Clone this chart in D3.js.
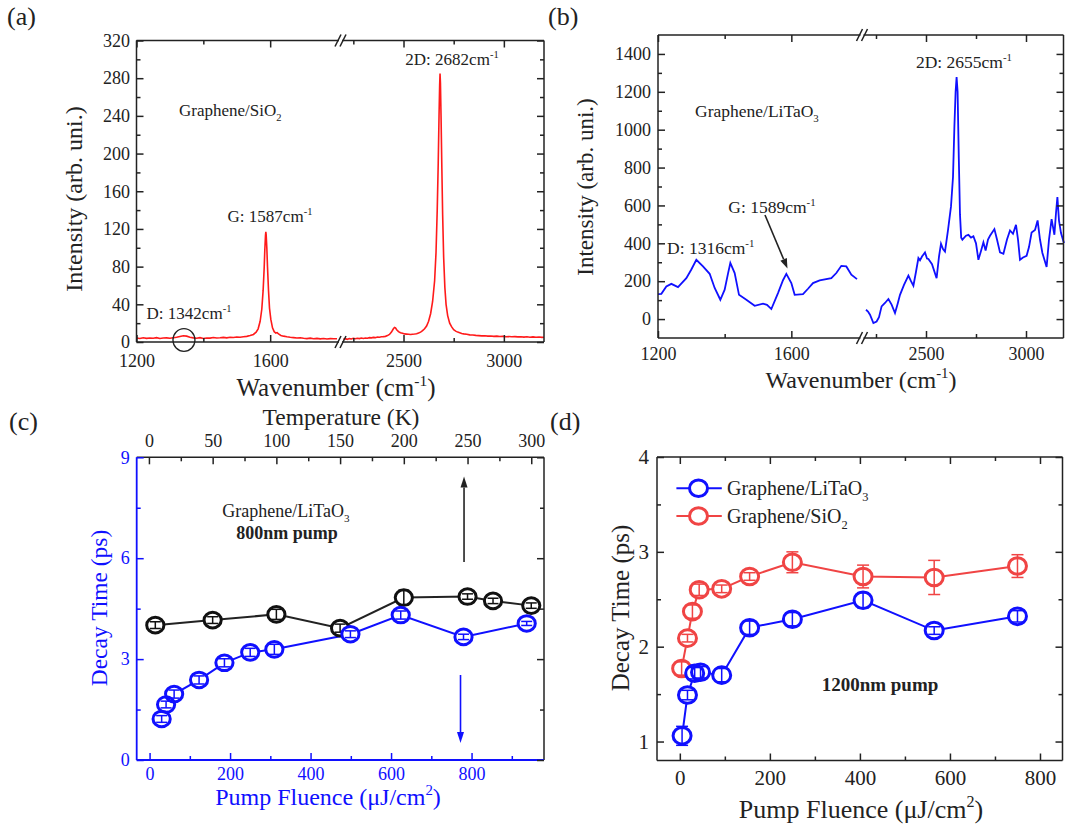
<!DOCTYPE html>
<html><head><meta charset="utf-8">
<script src="https://cdn.jsdelivr.net/npm/d3@7"></script>
<style>body{margin:0;background:#fff} svg{display:block} text{font-family:"Liberation Serif","Times New Roman",serif}</style>
</head><body><svg id="c" width="1068" height="832"></svg>
<script>
// ---------- DATA ----------
// (a) Graphene/SiO2 Raman spectrum
const aLeftWn = [1200,1210,1220,1230,1240,1250,1260,1270,1280,1290,1300,1310,1320,1330,1340,1350,1360,1370,1380,1390,1400,1410,1420,1430,1440,1450,1460,1470,1480,1490,1500,1510,1520,1530,1540,1550,1558,1564,1570,1575,1579,1582,1584,1586,1587,1588,1590,1592,1595,1598,1602,1607,1612,1617,1621,1625,1632,1640,1650,1660,1670,1680,1690,1700,1710,1720,1730,1740,1750,1760,1770,1780,1790,1800];
const aLeftI = [4.2,3.8,4.5,3.9,4.3,4.0,4.6,3.7,4.2,4.4,4.0,4.5,5.0,5.8,6.6,6.2,5.1,4.4,4.0,4.6,3.8,4.3,4.1,4.7,4.2,4.5,4.9,4.4,5.0,4.8,5.3,5.1,5.6,6.0,6.8,8.0,10.5,14,22,35,55,78,98,113,117,114,100,80,55,36,24,15,11,9.5,10,8.5,7,6.2,5.5,5.0,4.6,4.2,4.5,3.9,3.6,4.1,3.5,3.8,3.3,3.7,3.2,3.6,3.4,3.5];
const aRightWn = [2200,2210,2220,2230,2240,2250,2260,2270,2280,2290,2300,2310,2320,2330,2340,2350,2360,2370,2380,2390,2400,2410,2420,2430,2440,2448,2455,2460,2466,2475,2485,2495,2505,2515,2525,2535,2545,2555,2565,2575,2585,2595,2605,2615,2625,2635,2645,2655,2662,2668,2673,2677,2680,2682,2684,2687,2691,2695,2700,2706,2712,2720,2730,2740,2750,2760,2770,2780,2790,2800,2815,2830,2845,2860,2875,2890,2905,2920,2935,2950,2965,2980,2995,3010,3025,3040,3055,3070,3085,3100,3115,3130,3145,3160,3175,3190,3200];
const aRightI = [3.0,3.5,2.8,3.6,3.2,3.9,3.4,4.0,3.6,4.2,3.8,4.3,4.0,4.6,4.4,4.9,4.6,5.2,5.0,5.5,5.7,6.0,6.8,8.0,10.5,13.5,15.5,15,13,11,9.8,9.2,8.6,8.4,8.2,8.0,8.3,8.5,8.8,9.5,10.5,12,14,17,22,30,43,65,95,140,190,240,272,285,275,240,185,135,90,58,40,28,20,16,13,11.5,10.5,9.8,9.0,8.6,8.2,7.6,7.4,7.0,6.8,6.5,6.7,6.2,6.4,6.0,6.2,5.8,6.0,5.6,5.9,5.5,5.7,5.4,5.6,5.2,5.5,5.1,5.4,5.0,5.3,4.9,5.1];
// (b) Graphene/LiTaO3 Raman spectrum
const bLeftWn = [1200,1210,1225,1240,1260,1285,1300,1315,1335,1355,1370,1387,1400,1410,1417,1430,1443,1465,1490,1515,1527,1540,1560,1575,1585,1600,1610,1635,1650,1665,1685,1720,1735,1750,1765,1780,1797];
const bLeftI = [132,133,172,186,169,216,262,313,278,239,164,102,155,240,296,243,128,102,70,81,75,53,137,205,239,190,128,132,160,190,204,216,243,281,278,234,211];
const bRightWn = [2200,2210,2220,2237,2253,2265,2278,2295,2312,2328,2345,2358,2370,2390,2412,2425,2437,2450,2462,2470,2480,2495,2505,2512,2530,2553,2565,2575,2585,2595,2610,2625,2635,2642,2648,2653,2658,2664,2670,2676,2682,2700,2712,2725,2737,2750,2762,2775,2787,2798,2810,2820,2842,2855,2870,2887,2905,2920,2935,2950,2960,2970,2985,3003,3015,3028,3045,3058,3070,3082,3103,3115,3128,3142,3150,3157,3165,3175,3190];
const bRightI = [49,40,23,-21,-13,10,67,85,106,76,32,80,128,180,229,200,176,250,322,310,330,352,320,317,290,216,330,398,370,357,470,595,750,1017,1200,1278,1200,850,550,430,419,440,445,430,437,400,313,360,405,362,420,440,475,420,352,345,420,468,450,498,420,313,325,334,380,457,470,521,420,349,275,420,528,445,560,644,520,454,401];
// (c) decay time vs temperature (black) and vs fluence (blue), 800 nm pump
const cTempK = [5,50,100,150,200,250,270,300];
const cTempTau = [4.01,4.16,4.33,3.92,4.83,4.86,4.73,4.59];
const cTempErr = [0.1,0.1,0.15,0.12,0.22,0.08,0.08,0.08];
const cFlu = [30,41,61,123,186,250,310,499,624,780,937];
const cFluTau = [1.22,1.65,1.96,2.38,2.89,3.20,3.29,3.74,4.31,3.66,4.06];
const cFluErr = [0.1,0.1,0.12,0.12,0.12,0.12,0.15,0.1,0.12,0.08,0.06];
// (d) decay time vs fluence, 1200 nm pump
const dLtoFlu = [5,17,33,46,93,155,250,407,565,750];
const dLtoTau = [1.06,1.49,1.72,1.73,1.70,2.20,2.29,2.49,2.17,2.32];
const dLtoErr = [0.1,0.05,0.06,0.06,0.07,0.07,0.07,0.08,0.04,0.06];
const dSioFlu = [4,17,28,43,93,155,250,407,565,750];
const dSioTau = [1.77,2.09,2.37,2.60,2.61,2.74,2.89,2.74,2.73,2.85];
const dSioErr = [0.07,0.04,0.07,0.06,0.04,0.04,0.11,0.12,0.18,0.12];
// tick values
const aYMajor = [0,40,80,120,160,200,240,280,320];
const aYMinor = [20,60,100,140,180,220,260,300];
const xLMajor = [1200,1600], xLMinor = [1400];
const xRMajor = [2500,3000], xRMinor = [2250,2750];
const bYMajor = [0,200,400,600,800,1000,1200,1400];
const bYMinor = [100,300,500,700,900,1100,1300];
const cYMajor = [0,3,6,9], cYMinor = [1.5,4.5,7.5];
const cFMajor = [0,200,400,600,800], cFMinor = [100,300,500,700,900];
const cTMajor = [0,50,100,150,200,250,300], cTMinor = [25,75,125,175,225,275];
const dYMajor = [1,2,3,4], dYMinor = [1.5,2.5,3.5];
const dXMajor = [0,200,400,600,800], dXMinor = [100,300,500,700];

// ---------- HELPERS ----------
const svg = d3.select("#c");
svg.append("rect").attr("width",1068).attr("height",832).attr("fill","#fff");
const FONT = '"Liberation Serif","Times New Roman",serif';
const INK = "#222";
const BLUE = "#1010ff", RED = "#ff1a1a", RED2 = "#f04444";
const plain = d => String(d);

function rich(g, x, y, parts, size, opts = {}) {
  const t = g.append("text").attr("x", x).attr("y", y).attr("font-size", size)
    .attr("font-family", FONT)
    .attr("text-anchor", opts.anchor || "start").attr("fill", opts.color || INK)
    .attr("font-weight", opts.weight || "normal");
  if (opts.transform) t.attr("transform", opts.transform);
  let cur = 0;
  parts.forEach(p => {
    const [s, kind] = Array.isArray(p) ? p : [p, ""];
    let target = 0, fs = size;
    if (kind === "sup") { target = -0.42 * size; fs = 0.62 * size; }
    if (kind === "sub") { target = 0.28 * size; fs = 0.62 * size; }
    t.append("tspan").attr("dy", target - cur).attr("font-size", fs).text(s);
    cur = target;
  });
  return t;
}
function ax(g, axisFn, scale, vals, len, opts = {}) {
  const a = axisFn(scale).tickValues(vals).tickSize(-len).tickPadding(opts.pad || 6);
  if (opts.labels === false) a.tickFormat(""); else a.tickFormat(opts.fmt || plain);
  const s = g.append("g").attr("transform", opts.tr || null).call(a);
  s.select(".domain").remove();
  s.selectAll("line").attr("stroke", opts.color || INK).attr("stroke-width", 1.5);
  s.selectAll("text").attr("fill", opts.color || INK).attr("font-size", opts.fs || 18).attr("font-family", FONT);
  return s;
}
function seg(g, x1, y1, x2, y2, color, w) {
  g.append("line").attr("x1", x1).attr("y1", y1).attr("x2", x2).attr("y2", y2)
    .attr("stroke", color || INK).attr("stroke-width", w || 1.5);
}
function arrow(g, x1, y1, x2, y2, color, hl = 11, hw = 3.6) {
  const dx = x2 - x1, dy = y2 - y1, L = Math.hypot(dx, dy), ux = dx / L, uy = dy / L;
  const bx = x2 - ux * hl, by = y2 - uy * hl;
  seg(g, x1, y1, bx, by, color, 1.6);
  g.append("path").attr("d", `M${x2},${y2}L${bx - uy * hw},${by + ux * hw}L${bx + uy * hw},${by - ux * hw}Z`).attr("fill", color);
}
function breakMark(g, x1, x2, y) {
  g.append("rect").attr("x", x1 + 1).attr("y", y - 3).attr("width", x2 - x1 - 2).attr("height", 6).attr("fill", "#fff");
  [x1, x2].forEach(x => seg(g, x - 3, y + 6, x + 3, y - 6, INK, 1.5));
}
function markers(g, xs, ys, errs, x, y, color, rx, ry, cap) {
  xs.forEach((v, i) => {
    g.append("ellipse").attr("cx", x(v)).attr("cy", y(ys[i])).attr("rx", rx).attr("ry", ry).attr("fill", "#fff").attr("stroke", "none");
  });
  xs.forEach((v, i) => {
    const cx = x(v), t = y(ys[i] + errs[i]), b = y(ys[i] - errs[i]);
    seg(g, cx, t, cx, b, color, 1.5);
    seg(g, cx - cap, t, cx + cap, t, color, 1.5);
    seg(g, cx - cap, b, cx + cap, b, color, 1.5);
  });
  xs.forEach((v, i) => {
    g.append("ellipse").attr("cx", x(v)).attr("cy", y(ys[i])).attr("rx", rx).attr("ry", ry).attr("fill", "none").attr("stroke", color).attr("stroke-width", 3);
  });
}

// ---------- PANEL (a) ----------
{
  const g = svg.append("g");
  const L = 136.5, R = 544, T = 40.5, B = 342;
  const xL = d3.scaleLinear().domain([1200, 1800]).range([L, 337]);
  const xR = d3.scaleLinear().domain([2200, 3200]).range([343.3, R]);
  const y = d3.scaleLinear().domain([0, 320]).range([B, T]);
  const line = (sx) => d3.line().x(d => sx(d[0])).y(d => y(d[1]));
  g.append("path").datum(aLeftWn.map((w, i) => [w, aLeftI[i]])).attr("d", line(xL)).attr("fill", "none").attr("stroke", RED).attr("stroke-width", 1.6);
  g.append("path").datum(aRightWn.map((w, i) => [w, aRightI[i]])).attr("d", line(xR)).attr("fill", "none").attr("stroke", RED).attr("stroke-width", 1.6);
  seg(g, L, T, R, T); seg(g, L, B, R, B); seg(g, L, T, L, B); seg(g, R, T, R, B);
  breakMark(g, 338, 343, T); breakMark(g, 338, 343, B);
  ax(g, d3.axisLeft, y, aYMajor, 7, { tr: `translate(${L},0)`, pad: 6.5, fs: 18 });
  ax(g, d3.axisLeft, y, aYMinor, 4, { tr: `translate(${L},0)`, labels: false });
  ax(g, d3.axisRight, y, aYMajor, 7, { tr: `translate(${R},0)`, labels: false });
  ax(g, d3.axisRight, y, aYMinor, 4, { tr: `translate(${R},0)`, labels: false });
  ax(g, d3.axisBottom, xL, xLMajor, 7, { tr: `translate(0,${B})`, pad: 12, fs: 18 });
  ax(g, d3.axisBottom, xL, xLMinor, 4, { tr: `translate(0,${B})`, labels: false });
  ax(g, d3.axisBottom, xR, xRMajor, 7, { tr: `translate(0,${B})`, pad: 12, fs: 18 });
  ax(g, d3.axisBottom, xR, xRMinor, 4, { tr: `translate(0,${B})`, labels: false });
  ax(g, d3.axisTop, xL, xLMajor, 7, { tr: `translate(0,${T})`, labels: false });
  ax(g, d3.axisTop, xL, xLMinor, 4, { tr: `translate(0,${T})`, labels: false });
  ax(g, d3.axisTop, xR, xRMajor, 7, { tr: `translate(0,${T})`, labels: false });
  ax(g, d3.axisTop, xR, xRMinor, 4, { tr: `translate(0,${T})`, labels: false });
  rich(g, 7, 25, ["(a)"], 26);
  rich(g, 0, 0, ["Intensity (arb. uni.)"], 24, { anchor: "middle", transform: "translate(82,199) rotate(-90)" });
  rich(g, 336, 396, ["Wavenumber (cm", ["-1", "sup"], ")"], 25, { anchor: "middle" });
  rich(g, 179, 116, ["Graphene/SiO", ["2", "sub"]], 17);
  rich(g, 270, 222, ["G: 1587cm", ["-1", "sup"]], 17, { anchor: "middle" });
  rich(g, 452, 65, ["2D: 2682cm", ["-1", "sup"]], 17, { anchor: "middle" });
  rich(g, 189, 319, ["D: 1342cm", ["-1", "sup"]], 17, { anchor: "middle" });
  g.append("ellipse").attr("cx", xL(1342)).attr("cy", 340).attr("rx", 11).attr("ry", 11.3).attr("fill", "none").attr("stroke", INK).attr("stroke-width", 1.3);
}

// ---------- PANEL (b) ----------
{
  const g = svg.append("g");
  const L = 658, R = 1063.5, T = 35, B = 338;
  const xL = d3.scaleLinear().domain([1200, 1800]).range([L, 858]);
  const xR = d3.scaleLinear().domain([2200, 3190]).range([866, 1064]);
  const y = d3.scaleLinear().domain([-100, 1500]).range([B, T]);
  const line = (sx) => d3.line().x(d => sx(d[0])).y(d => y(d[1]));
  g.append("path").datum(bLeftWn.map((w, i) => [w, bLeftI[i]])).attr("d", line(xL)).attr("fill", "none").attr("stroke", BLUE).attr("stroke-width", 1.8);
  g.append("path").datum(bRightWn.map((w, i) => [w, bRightI[i]])).attr("d", line(xR)).attr("fill", "none").attr("stroke", BLUE).attr("stroke-width", 1.8);
  seg(g, L, T, R, T); seg(g, L, B, R, B); seg(g, L, T, L, B); seg(g, R, T, R, B);
  breakMark(g, 859.5, 864.5, T); breakMark(g, 859.5, 864.5, B);
  ax(g, d3.axisLeft, y, bYMajor, 7, { tr: `translate(${L},0)`, pad: 7, fs: 18 });
  ax(g, d3.axisLeft, y, bYMinor, 4, { tr: `translate(${L},0)`, labels: false });
  ax(g, d3.axisRight, y, bYMajor, 7, { tr: `translate(${R},0)`, labels: false });
  ax(g, d3.axisRight, y, bYMinor, 4, { tr: `translate(${R},0)`, labels: false });
  ax(g, d3.axisBottom, xL, xLMajor, 7, { tr: `translate(0,${B})`, pad: 9, fs: 18 });
  ax(g, d3.axisBottom, xL, xLMinor, 4, { tr: `translate(0,${B})`, labels: false });
  ax(g, d3.axisBottom, xR, xRMajor, 7, { tr: `translate(0,${B})`, pad: 9, fs: 18 });
  ax(g, d3.axisBottom, xR, xRMinor, 4, { tr: `translate(0,${B})`, labels: false });
  ax(g, d3.axisTop, xL, xLMajor, 7, { tr: `translate(0,${T})`, labels: false });
  ax(g, d3.axisTop, xL, xLMinor, 4, { tr: `translate(0,${T})`, labels: false });
  ax(g, d3.axisTop, xR, xRMajor, 7, { tr: `translate(0,${T})`, labels: false });
  ax(g, d3.axisTop, xR, xRMinor, 4, { tr: `translate(0,${T})`, labels: false });
  rich(g, 548, 25, ["(b)"], 26);
  rich(g, 0, 0, ["Intensity (arb. uni.)"], 23, { anchor: "middle", transform: "translate(593,187) rotate(-90)" });
  rich(g, 861, 388, ["Wavenumber (cm", ["-1", "sup"], ")"], 24, { anchor: "middle" });
  rich(g, 695, 117, ["Graphene/LiTaO", ["3", "sub"]], 17.5);
  rich(g, 964, 68, ["2D: 2655cm", ["-1", "sup"]], 17.5, { anchor: "middle" });
  rich(g, 772, 213, ["G: 1589cm", ["-1", "sup"]], 17.5, { anchor: "middle" });
  rich(g, 667, 254, ["D: 1316cm", ["-1", "sup"]], 17.5);
  arrow(g, 765, 215, 787.5, 268.5, INK, 10, 3.5);
}

// ---------- PANEL (c) ----------
{
  const g = svg.append("g");
  const L = 136.7, R = 544, T = 457.3, B = 760;
  const xF = d3.scaleLinear().domain([-32, 980]).range([L, R]);
  const xT = d3.scaleLinear().domain([-9.6, 310]).range([L, R]);
  const y = d3.scaleLinear().domain([0, 9]).range([B, T]);
  const ln = (sx) => d3.line().x(d => sx(d[0])).y(d => y(d[1]));
  g.append("path").datum(cTempK.map((v, i) => [v, cTempTau[i]])).attr("d", ln(xT)).attr("fill", "none").attr("stroke", INK).attr("stroke-width", 2);
  g.append("path").datum(cFlu.map((v, i) => [v, cFluTau[i]])).attr("d", ln(xF)).attr("fill", "none").attr("stroke", BLUE).attr("stroke-width", 2);
  markers(g, cTempK, cTempTau, cTempErr, xT, y, "#111", 8.6, 7.8, 5.5);
  markers(g, cFlu, cFluTau, cFluErr, xF, y, BLUE, 8.6, 7.8, 5.5);
  seg(g, L, T, R, T, INK); seg(g, R, T, R, B, INK);
  seg(g, L, B, R, B, BLUE, 1.8); seg(g, L, T, L, B, BLUE, 1.8);
  ax(g, d3.axisLeft, y, cYMajor, 7, { tr: `translate(${L},0)`, pad: 7, fs: 18, color: BLUE });
  ax(g, d3.axisLeft, y, cYMinor, 4, { tr: `translate(${L},0)`, labels: false, color: BLUE });
  ax(g, d3.axisRight, y, cYMajor, 7, { tr: `translate(${R},0)`, labels: false });
  ax(g, d3.axisRight, y, cYMinor, 4, { tr: `translate(${R},0)`, labels: false });
  ax(g, d3.axisBottom, xF, cFMajor, 7, { tr: `translate(0,${B})`, pad: 7.5, fs: 18, color: BLUE });
  ax(g, d3.axisBottom, xF, cFMinor, 4, { tr: `translate(0,${B})`, labels: false, color: BLUE });
  ax(g, d3.axisTop, xT, cTMajor, 7, { tr: `translate(0,${T})`, pad: 10, fs: 18 });
  ax(g, d3.axisTop, xT, cTMinor, 4, { tr: `translate(0,${T})`, labels: false });
  arrow(g, xT(250) - 3.5, 562, xT(250) - 3.5, 476.5, INK, 11, 3.5);
  arrow(g, xF(780) - 3, 675, xF(780) - 3, 743, BLUE, 11, 3.5);
  rich(g, 9, 430, ["(c)"], 26);
  rich(g, 341, 425, ["Temperature (K)"], 23.5, { anchor: "middle" });
  rich(g, 0, 0, ["Decay Time (ps)"], 23.5, { anchor: "middle", color: BLUE, transform: "translate(107,608) rotate(-90)" });
  rich(g, 328, 805, ["Pump Fluence (\u03bcJ/cm", ["2", "sup"], ")"], 24, { anchor: "middle", color: BLUE });
  rich(g, 286, 517, ["Graphene/LiTaO", ["3", "sub"]], 18, { anchor: "middle" });
  rich(g, 287, 538.5, ["800nm pump"], 18, { anchor: "middle", weight: "bold" });
}

// ---------- PANEL (d) ----------
{
  const g = svg.append("g");
  const L = 657, R = 1062.5, T = 457, B = 760.5;
  const x = d3.scaleLinear().domain([-50.7, 850]).range([L, R]);
  const y = d3.scaleLinear().domain([0.8, 4]).range([B, T]);
  const ln = d3.line().x(d => x(d[0])).y(d => y(d[1]));
  g.append("path").datum(dSioFlu.map((v, i) => [v, dSioTau[i]])).attr("d", ln).attr("fill", "none").attr("stroke", RED2).attr("stroke-width", 2);
  g.append("path").datum(dLtoFlu.map((v, i) => [v, dLtoTau[i]])).attr("d", ln).attr("fill", "none").attr("stroke", BLUE).attr("stroke-width", 2);
  markers(g, dSioFlu, dSioTau, dSioErr, x, y, RED2, 9, 8.3, 6);
  markers(g, dLtoFlu, dLtoTau, dLtoErr, x, y, BLUE, 9, 8.3, 6);
  seg(g, L, T, R, T); seg(g, L, B, R, B); seg(g, L, T, L, B); seg(g, R, T, R, B);
  ax(g, d3.axisLeft, y, dYMajor, 7, { tr: `translate(${L},0)`, pad: 8, fs: 21 });
  ax(g, d3.axisLeft, y, dYMinor, 4, { tr: `translate(${L},0)`, labels: false });
  ax(g, d3.axisRight, y, dYMajor, 7, { tr: `translate(${R},0)`, labels: false });
  ax(g, d3.axisRight, y, dYMinor, 4, { tr: `translate(${R},0)`, labels: false });
  ax(g, d3.axisBottom, x, dXMajor, 7, { tr: `translate(0,${B})`, pad: 9.5, fs: 21 });
  ax(g, d3.axisBottom, x, dXMinor, 4, { tr: `translate(0,${B})`, labels: false });
  ax(g, d3.axisTop, x, dXMajor, 7, { tr: `translate(0,${T})`, labels: false });
  ax(g, d3.axisTop, x, dXMinor, 4, { tr: `translate(0,${T})`, labels: false });
  const leg = [[BLUE, 488.3, ["Graphene/LiTaO", ["3", "sub"]]], [RED2, 516, ["Graphene/SiO", ["2", "sub"]]]];
  leg.forEach(([c, ly, parts]) => {
    seg(g, 676.4, ly, 721.8, ly, c, 2);
    g.append("ellipse").attr("cx", 698.5).attr("cy", ly).attr("rx", 9).attr("ry", 8.3).attr("fill", "#fff").attr("stroke", c).attr("stroke-width", 3);
    rich(g, 727, ly + 7, parts, 20);
  });
  rich(g, 550, 430, ["(d)"], 26);
  rich(g, 0, 0, ["Decay Time (ps)"], 25, { anchor: "middle", transform: "translate(629,608) rotate(-90)" });
  rich(g, 861, 818, ["Pump Fluence (\u03bcJ/cm", ["2", "sup"], ")"], 26, { anchor: "middle" });
  rich(g, 880, 691, ["1200nm pump"], 19, { anchor: "middle", weight: "bold" });
}
</script></body></html>
